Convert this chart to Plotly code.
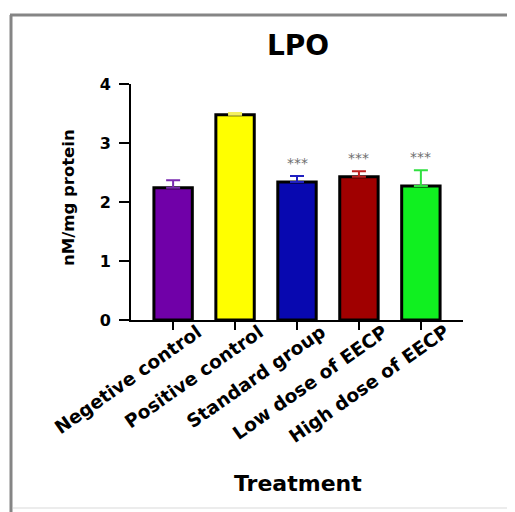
import plotly.graph_objects as go

categories = ["Negetive control", "Positive control", "Standard group",
              "Low dose of EECP", "High dose of EECP"]
means = [2.24, 3.48, 2.34, 2.43, 2.27]
errors = [0.13, 0.03, 0.10, 0.09, 0.27]
significance = ["", "", "***", "***", "***"]
bar_colors = ["#7000A8", "#FFFF00", "#0808B0", "#A00000", "#10F020"]
err_colors = ["#7A2AB0", "#F4F060", "#2020C0", "#C02020", "#30E040"]

FONT = "DejaVu Sans"
OFF = 8  # page body margin in the browser
W, H = 515 - OFF, 512 - OFF

fig = go.Figure()
for cat, m, e, bc, ec in zip(categories, means, errors, bar_colors, err_colors):
    fig.add_trace(go.Bar(
        x=[cat], y=[m],
        width=0.62,
        marker=dict(color=bc, line=dict(color="black", width=3)),
        error_y=dict(type="data", array=[e], arrayminus=[0], symmetric=False,
                     color=ec, thickness=2, width=7),
        showlegend=False,
    ))

for cat, m, e, s in zip(categories, means, errors, significance):
    if s:
        fig.add_annotation(x=cat, y=m + e + 0.05, xref="x", yref="y",
                           text=s, showarrow=False, yanchor="bottom",
                           xanchor="center",
                           font=dict(family=FONT, size=14, color="#6e6e6e"))

# plot-area page-pixel box: x 131..463, y 84..320
def px(xp):
    return (xp - 131) / 332.0


def py(yp):
    return (320 - yp) / 236.0


# rotated category labels as annotations
for cat in categories:
    fig.add_annotation(x=cat, xref="x", y=py(318), yref="paper",
                       xshift=35, text=cat, textangle=-35, showarrow=False,
                       xanchor="right", yanchor="top",
                       font=dict(family=FONT, size=18.5, color="black",
                                 weight="bold"))

# outer frame (left and top edges)
fig.add_shape(type="line", xref="paper", yref="paper",
              x0=px(11), x1=px(11), y0=py(15), y1=py(514),
              line=dict(color="#858585", width=3))
fig.add_shape(type="line", xref="paper", yref="paper",
              x0=px(10), x1=px(516), y0=py(15), y1=py(15),
              line=dict(color="#858585", width=3))
fig.add_shape(type="line", xref="paper", yref="paper",
              x0=px(13), x1=px(516), y0=py(508), y1=py(508),
              line=dict(color="#ececec", width=2))

# axis titles as annotations
fig.add_annotation(x=px(68), y=py(198), xref="paper", yref="paper",
                   text="nM/mg protein", textangle=-90, showarrow=False,
                   xanchor="center", yanchor="middle",
                   font=dict(family=FONT, size=16.5, color="black",
                             weight="bold"))
fig.add_annotation(x=px(298), y=py(483), xref="paper", yref="paper",
                   text="Treatment", showarrow=False,
                   xanchor="center", yanchor="middle",
                   font=dict(family=FONT, size=22, color="black",
                             weight="bold"))

fig.update_layout(
    width=W, height=H,
    margin=dict(l=131 - OFF, r=515 - 463, t=84 - OFF, b=512 - 320),
    paper_bgcolor="white", plot_bgcolor="white",
    barmode="overlay",
    title=dict(text="LPO", x=(298 - OFF) / W, xanchor="center",
               y=1 - (45 - OFF) / H, yanchor="middle",
               font=dict(family=FONT, size=28, color="black", weight="bold")),
    xaxis=dict(
        type="category", categoryorder="array", categoryarray=categories,
        range=[-0.68, 4.68],
        showline=True, linecolor="black", linewidth=2,
        ticks="outside", ticklen=8, tickwidth=2, tickcolor="black",
        showticklabels=False,
        showgrid=False, zeroline=False,
    ),
    yaxis=dict(
        range=[0, 4], tickvals=[0, 1, 2, 3, 4],
        showline=True, linecolor="black", linewidth=2,
        ticks="outside", ticklen=10, tickwidth=2, tickcolor="black",
        ticklabelstandoff=5,
        tickfont=dict(family=FONT, size=16, color="black", weight="bold"),
        showgrid=False, zeroline=False,
    ),
)

fig.write_html("out.html")
